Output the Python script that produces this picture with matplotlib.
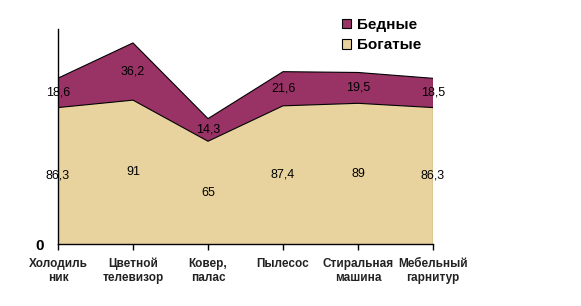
import matplotlib.pyplot as plt
import numpy as np
from matplotlib.patches import Patch

plt.rcParams['font.family'] = ['Liberation Sans', 'DejaVu Sans']

categories = ["Холодиль\nник", "Цветной\nтелевизор", "Ковер,\nпалас",
              "Пылесос", "Стиральная\nмашина", "Мебельный\nгарнитур"]
rich = [86.3, 91, 65, 87.4, 89, 86.3]
poor = [18.6, 36.2, 14.3, 21.6, 19.5, 18.5]
rich_labels = ["86,3", "91", "65", "87,4", "89", "86,3"]
poor_labels = ["18,6", "36,2", "14,3", "21,6", "19,5", "18,5"]

beige = "#E8D39E"
maroon = "#993366"

fig = plt.figure(figsize=(5.81, 3.06), dpi=100)
ax = fig.add_axes([58 / 581, 62 / 306, 375 / 581, 215 / 306])

x = np.arange(len(categories))
rich = np.array(rich)
poor = np.array(poor)
top = rich + poor

ax.fill_between(x, 0, rich, facecolor=beige, edgecolor="none")
ax.fill_between(x, rich, top, facecolor=maroon, edgecolor="none")
ax.plot(x, rich, color="black", lw=0.8)
ax.plot(x, top, color="black", lw=0.8)
ax.plot([x[-1], x[-1]], [0, top[-1]], color="black", lw=0.8)

for i in range(len(x)):
    ax.text(x[i], rich[i] / 2, rich_labels[i], ha="center", va="center",
            fontsize=9, color="black")
    ax.text(x[i], rich[i] + poor[i] / 2, poor_labels[i], ha="center", va="center",
            fontsize=9, color="black")

ax.set_xlim(0, len(x) - 1)
ax.set_ylim(0, 136)
ax.set_xticks(x)
ax.set_xticklabels(categories, fontsize=8.5, fontweight="bold", color="#222222")
ax.tick_params(axis="x", length=4, width=1, pad=6)
ax.set_yticks([0])
ax.set_yticklabels(["0"], fontsize=11, fontweight="bold")
ax.tick_params(axis="y", length=0, pad=10)

for s in ["top", "right"]:
    ax.spines[s].set_visible(False)
ax.spines["left"].set_linewidth(1)
ax.spines["bottom"].set_linewidth(1)

leg_handles = [Patch(facecolor=maroon, edgecolor="black", lw=0.8),
               Patch(facecolor=beige, edgecolor="black", lw=0.8)]
fig.legend(leg_handles, ["Бедные", "Богатые"], loc="upper left",
           bbox_to_anchor=(342 / 581, 1 - 18 / 306), frameon=False,
           borderpad=0, borderaxespad=0,
           prop={"weight": "bold", "size": 11}, handlelength=0.6,
           handleheight=0.6, handletextpad=0.4, labelspacing=0.4)

fig.savefig("out.png", dpi=100)
